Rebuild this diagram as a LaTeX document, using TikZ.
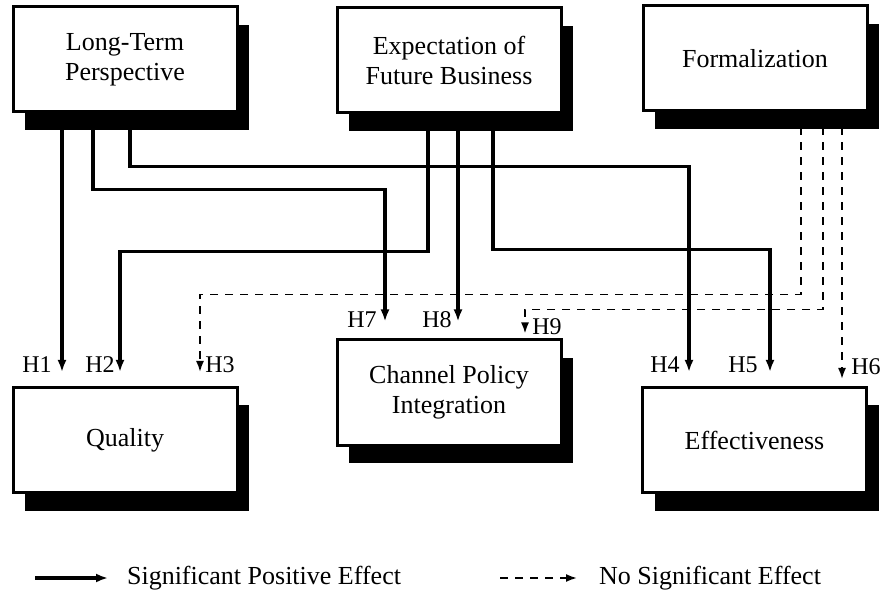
\documentclass[tikz,border=0pt]{standalone}
\usepackage{fontspec}
\setmainfont{Liberation Serif}
\usetikzlibrary{arrows.meta,shadows,calc}

\begin{document}
\begin{tikzpicture}[x=0.5pt,y=-0.5pt]
\tikzset{box/.style={draw, line width=1.5pt, fill=white, minimum width=112pt, minimum height=52.5pt, align=center, font=\fontsize{13}{15}\selectfont, general shadow={fill=black, shadow xshift=6pt, shadow yshift=-9pt}}}
\tikzset{sig/.style={line width=1.6pt, -{Latex[length=6pt,width=4.5pt]}}}
\tikzset{nsig/.style={line width=0.9pt, dash pattern=on 4pt off 3.5pt, -{Latex[length=5.5pt,width=4pt]}}}
\tikzset{hlab/.style={font=\fontsize{12}{14}\selectfont, inner sep=0pt}}
\useasboundingbox (0,0) rectangle (883,598);

\node[box] (ltp) at (125,59.5) {Long-Term\\Perspective};
\node[box] (efb) at (449,60.5) {Expectation of\\Future Business};
\node[box] (frm) at (755,58.5) {Formalization};
\node[box] (qua) at (125,440) {Quality};
\node[box] (cpi) at (449,392.5) {Channel Policy\\Integration};
\node[box] (eff) at (754.5,440) {Effectiveness};

% significant
\draw[sig] ($(ltp.south)+(-63,0)$) -- ($(qua.north)+(-63,-14)$);
\draw[sig] ($(ltp.south)+(-32,0)$) -- ++(0,76) -| ($(cpi.north)+(-64,-17)$);
\draw[sig] ($(ltp.south)+(5,0)$) -- ++(0,53) -| ($(eff.north)+(-65.5,-14)$);
\draw[sig] ($(efb.south)+(-21,0)$) -- ++(0,137) -| ($(qua.north)+(-5,-14)$);
\draw[sig] ($(efb.south)+(9,0)$) -- ($(cpi.north)+(9,-17)$);
\draw[sig] ($(efb.south)+(44,0)$) -- ++(0,135) -| ($(eff.north)+(15.5,-14)$);
% not significant
\draw[nsig] ($(frm.south)+(46,0)$) -- ++(0,182) -| ($(qua.north)+(75,-14)$);
\draw[nsig] ($(frm.south)+(68,0)$) -- ++(0,197) -| ($(cpi.north)+(76,-5)$);
\draw[nsig] ($(frm.south)+(87,0)$) -- ($(eff.north)+(87.5,-7)$);

\node[hlab] (h1) at (37,365) {H1};
\node[hlab] (h2) at (100,365) {H2};
\node[hlab] (h3) at (220,365) {H3};
\node[hlab] (h7) at (362,320) {H7};
\node[hlab] (h8) at (437,320) {H8};
\node[hlab] (h9) at (547,327) {H9};
\node[hlab] (h4) at (665,365) {H4};
\node[hlab] (h5) at (743,365) {H5};
\node[hlab] (h6) at (866,367) {H6};

% legend
\coordinate (sa) at (35,578);
\coordinate (sb) at (108,578);
\draw[sig] (sa) -- (sb);
\node[anchor=west, font=\fontsize{13}{15}\selectfont] (sigtxt) at (120,578) {Significant Positive Effect};
\coordinate (na) at (500,578);
\coordinate (nb) at (577,578);
\draw[nsig] (na) -- (nb);
\node[anchor=west, font=\fontsize{13}{15}\selectfont] (nsigtxt) at (592,578) {No Significant Effect};
\end{tikzpicture}
\end{document}
